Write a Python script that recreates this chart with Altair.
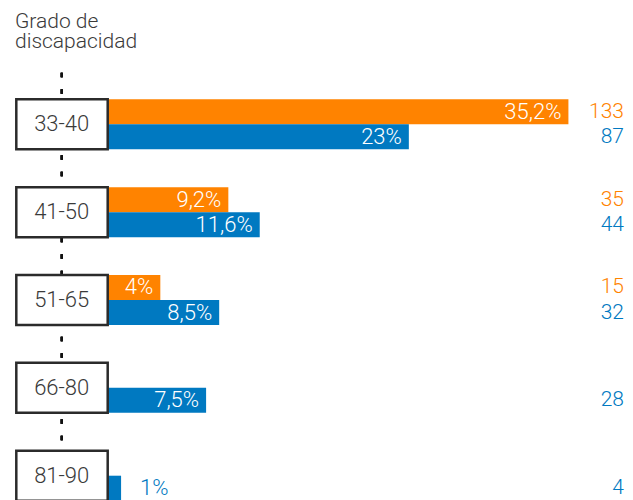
import altair as alt
import pandas as pd

groups = ["33-40", "41-50", "51-65", "66-80", "81-90"]
orange_pct = [35.2, 9.2, 4.0, None, None]
orange_cnt = [133, 35, 15, None, None]
blue_pct = [23.0, 11.6, 8.5, 7.5, 1.0]
blue_cnt = [87, 44, 32, 28, 4]
title_lines = ["Grado de", "discapacidad"]

ORANGE = "#FF8300"
BLUE = "#0079C1"
GREY = "#3a3a3a"
FONT = "Roboto"

rows = []
for g, op, oc, bp, bc in zip(groups, orange_pct, orange_cnt, blue_pct, blue_cnt):
    if op is not None:
        rows.append({"grupo": g, "serie": "A", "pct": op, "cnt": oc})
    rows.append({"grupo": g, "serie": "B", "pct": bp, "cnt": bc})
df = pd.DataFrame(rows)
df["label"] = df["pct"].map(lambda v: f"{v:g}".replace(".", ",") + "%")
df["cnt_label"] = df["cnt"].map(lambda v: f"{int(v)}")
df["small"] = df["pct"] < 2

gdf = pd.DataFrame({"grupo": groups})

xscale = alt.Scale(domain=[0, 40], range=[100, 623.2])
yscale = alt.Scale(domain=groups, range=[91.3, 492.7], paddingInner=0.4308, paddingOuter=0)
yoff = alt.YOffset("serie:N", scale=alt.Scale(domain=["A", "B"], paddingInner=0, paddingOuter=0))
color = alt.Color("serie:N", scale=alt.Scale(domain=["A", "B"], range=[ORANGE, BLUE]), legend=None)

Y = alt.Y("grupo:N", scale=yscale, axis=None)
X = alt.X("pct:Q", scale=xscale, axis=None)

base = alt.Chart(df)

dotted = alt.Chart(gdf).mark_rule(color="#111111", strokeWidth=2, strokeDash=[4.5, 12]).encode(
    x=alt.value(53.7), y=alt.value(64.7), y2=alt.value(492)
)

bars = base.mark_bar().encode(x=X, x2=alt.datum(0), y=Y, yOffset=yoff, color=color)

boxes = alt.Chart(gdf).mark_rect(fill="white", stroke="#2b2b2b", strokeWidth=2.5).encode(
    x=alt.value(8.3), x2=alt.value(99.7), y=Y
)

box_text = alt.Chart(gdf).mark_text(font=FONT, fontSize=22, fontWeight=300, color=GREY).encode(
    x=alt.value(53.7), y=Y, text="grupo:N"
)

inside = base.transform_filter("!datum.small").mark_text(
    font=FONT, fontSize=22, fontWeight=300, color="white", align="right", dx=-7
).encode(x=X, y=Y, yOffset=yoff, text="label:N")

outside = base.transform_filter("datum.small").mark_text(
    font=FONT, fontSize=22, fontWeight=300, align="left", dx=19
).encode(x=X, y=Y, yOffset=yoff, text="label:N", color=color)

counts = base.mark_text(font=FONT, fontSize=21, fontWeight=300, align="right").encode(
    x=alt.value(616), y=Y, yOffset=yoff, text="cnt_label:N", color=color
)

title = alt.Chart(pd.DataFrame({"t": [title_lines]})).mark_text(
    font=FONT, fontSize=21, fontWeight=300, color=GREY, align="left", baseline="alphabetic", lineHeight=20.6
).encode(x=alt.value(7), y=alt.value(19.7), text="t")

chart = alt.layer(dotted, bars, boxes, box_text, inside, outside, counts, title).properties(
    width=617, height=492, autosize=alt.AutoSizeParams(type="none"), padding=0
).configure_view(stroke=None)

chart.save("out.html", embed_options={"renderer": "svg", "actions": False})
